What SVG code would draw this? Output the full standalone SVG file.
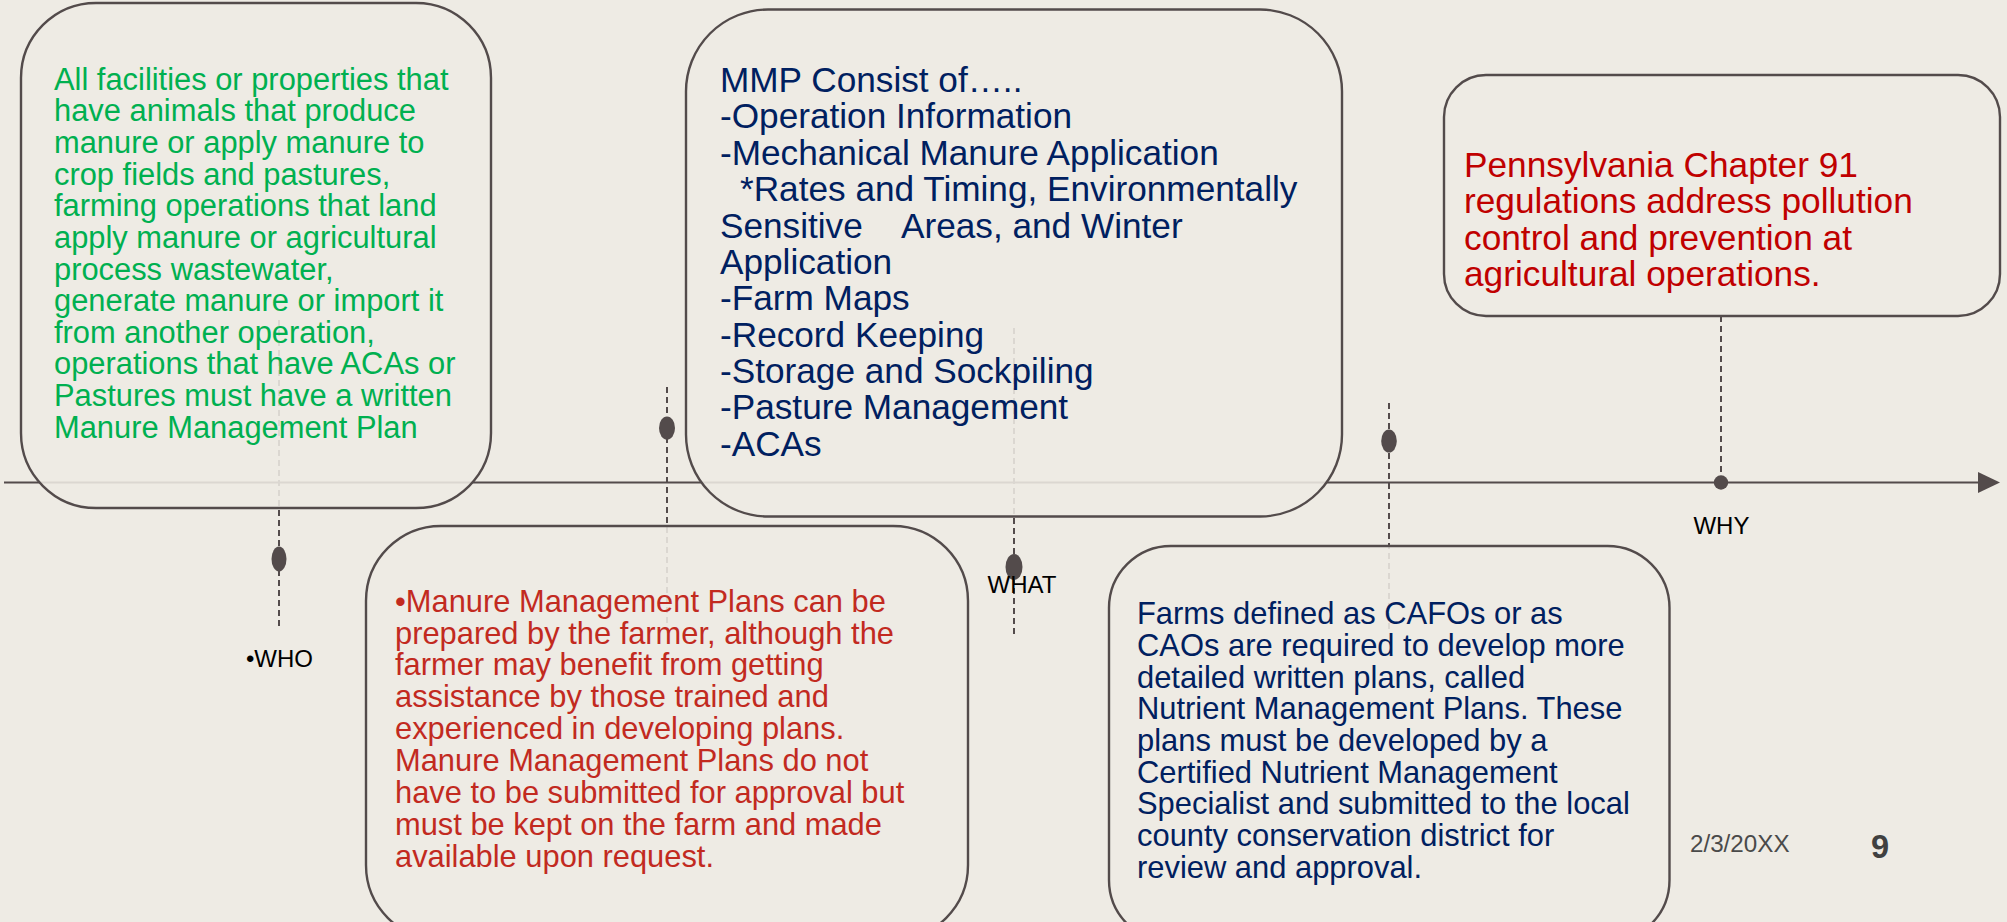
<svg xmlns="http://www.w3.org/2000/svg" width="2007" height="922" viewBox="0 0 2007 922">
<style>
.bg{fill:#EEEBE4}
.box{fill:#EEEBE4;fill-opacity:0.88;stroke:#534B4B;stroke-width:2.4}
.line{stroke:#534B4B;stroke-width:2.2;fill:none}
.dash{stroke:#534B4B;stroke-width:2;stroke-dasharray:6 4;fill:none}
.dot{fill:#534B4B}
.t{font-family:"Liberation Sans",Arial,sans-serif}
.green{fill:#00B050;font-size:30.87px}
.navy{fill:#002060;font-size:35.2px}
.navys{fill:#002060;font-size:30.9px}
.red{fill:#C00000;font-size:35.25px}
.red2{fill:#C22A1F;font-size:30.85px}
.lbl{fill:#000000;font-size:24px}
.foot{fill:#4A4A4A;font-size:24.2px}
</style>
<rect class="bg" x="0" y="0" width="2007" height="922"/>
<g id="connectors">
  <line class="line" x1="4" y1="482.5" x2="1980" y2="482.5"/>
  <polygon class="dot" points="1978,472 2000,482.5 1978,493"/>
  <line class="dash" x1="279" y1="320" x2="279" y2="627"/>
  <line class="dash" x1="667" y1="387" x2="667" y2="623"/>
  <line class="dash" x1="1014" y1="328" x2="1014" y2="635"/>
  <line class="dash" x1="1389" y1="403" x2="1389" y2="630"/>
  <line class="dash" x1="1721" y1="316" x2="1721" y2="482"/>
</g>
<g id="dots">
  <ellipse class="dot" cx="279" cy="559" rx="7.5" ry="12.5"/>
  <ellipse class="dot" cx="667" cy="428" rx="8" ry="11.5"/>
  <ellipse class="dot" cx="1014" cy="567" rx="8.5" ry="13"/>
  <ellipse class="dot" cx="1389" cy="441" rx="7.8" ry="11.5"/>
  <circle class="dot" cx="1721" cy="482.5" r="7.2"/>
</g>
<g id="node-who-box">
  <rect class="box" x="21" y="3" width="470" height="505" rx="75" ry="75"/>
  <text class="t green">
    <tspan x="54" y="89.6">All facilities or properties that</tspan>
    <tspan x="54" y="121.25">have animals that produce</tspan>
    <tspan x="54" y="152.9">manure or apply manure to</tspan>
    <tspan x="54" y="184.55">crop fields and pastures,</tspan>
    <tspan x="54" y="216.2">farming operations that land</tspan>
    <tspan x="54" y="247.85">apply manure or agricultural</tspan>
    <tspan x="54" y="279.5">process wastewater,</tspan>
    <tspan x="54" y="311.15">generate manure or import it</tspan>
    <tspan x="54" y="342.8">from another operation,</tspan>
    <tspan x="54" y="374.45">operations that have ACAs or</tspan>
    <tspan x="54" y="406.1">Pastures must have a written</tspan>
    <tspan x="54" y="437.75">Manure Management Plan</tspan>
  </text>
</g>
<g id="node-what-box">
  <rect class="box" x="686" y="9.5" width="656" height="507" rx="82" ry="82"/>
  <text class="t navy">
    <tspan x="720" y="92">MMP Consist of…..</tspan>
    <tspan x="720" y="128.4">-Operation Information</tspan>
    <tspan x="720" y="164.8">-Mechanical Manure Application</tspan>
    <tspan x="740" y="201.1">*Rates and Timing, Environmentally</tspan>
    <tspan x="720" y="237.5">Sensitive</tspan><tspan x="901" y="237.5">Areas, and Winter</tspan>
    <tspan x="720" y="273.9">Application</tspan>
    <tspan x="720" y="310.3">-Farm Maps</tspan>
    <tspan x="720" y="346.6">-Record Keeping</tspan>
    <tspan x="720" y="383">-Storage and Sockpiling</tspan>
    <tspan x="720" y="419.4">-Pasture Management</tspan>
    <tspan x="720" y="455.7">-ACAs</tspan>
  </text>
</g>
<g id="node-why-box">
  <rect class="box" x="1444" y="75" width="556" height="241" rx="42" ry="42"/>
  <text class="t red">
    <tspan x="1464" y="176.7">Pennsylvania Chapter 91</tspan>
    <tspan x="1464" y="213.1">regulations address pollution</tspan>
    <tspan x="1464" y="249.5">control and prevention at</tspan>
    <tspan x="1464" y="285.9">agricultural operations.</tspan>
  </text>
</g>
<g id="node-who-detail">
  <rect class="box" x="366" y="526" width="602" height="414" rx="75" ry="75"/>
  <text class="t red2">
    <tspan x="395" y="611.7">•Manure Management Plans can be</tspan>
    <tspan x="395" y="643.55">prepared by the farmer, although the</tspan>
    <tspan x="395" y="675.4">farmer may benefit from getting</tspan>
    <tspan x="395" y="707.25">assistance by those trained and</tspan>
    <tspan x="395" y="739.1">experienced in developing plans.</tspan>
    <tspan x="395" y="770.95">Manure Management Plans do not</tspan>
    <tspan x="395" y="802.8">have to be submitted for approval but</tspan>
    <tspan x="395" y="834.65">must be kept on the farm and made</tspan>
    <tspan x="395" y="866.5">available upon request.</tspan>
  </text>
</g>
<g id="node-cafo">
  <rect class="box" x="1109" y="546" width="560.5" height="396" rx="62" ry="62"/>
  <text class="t navys">
    <tspan x="1137" y="624.3">Farms defined as CAFOs or as</tspan>
    <tspan x="1137" y="656">CAOs are required to develop more</tspan>
    <tspan x="1137" y="687.6">detailed written plans, called</tspan>
    <tspan x="1137" y="719.3">Nutrient Management Plans. These</tspan>
    <tspan x="1137" y="751">plans must be developed by a</tspan>
    <tspan x="1137" y="782.6">Certified Nutrient Management</tspan>
    <tspan x="1137" y="814.3">Specialist and submitted to the local</tspan>
    <tspan x="1137" y="846">county conservation district for</tspan>
    <tspan x="1137" y="877.7">review and approval.</tspan>
  </text>
</g>
<g id="label-who"><text class="t lbl" x="279.5" y="667" text-anchor="middle">•WHO</text></g>
<g id="label-what"><text class="t lbl" x="1022" y="593" text-anchor="middle">WHAT</text></g>
<g id="label-why"><text class="t lbl" x="1721.4" y="534" text-anchor="middle">WHY</text></g>
<g id="footer">
  <text class="t foot" x="1690" y="851.7">2/3/20XX</text>
  <text class="t" x="1871" y="858.3" font-size="32.5" font-weight="bold" fill="#404040">9</text>
</g>
</svg>
